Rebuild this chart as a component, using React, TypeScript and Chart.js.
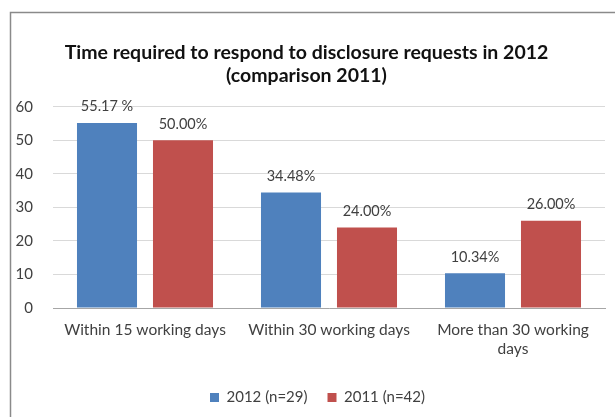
import React, { useEffect, useRef } from "react";
import { Chart, registerables } from "chart.js";

Chart.register(...registerables);

const categories: (string | string[])[] = [
  "Within 15 working days",
  "Within 30 working days",
  ["More than 30 working", "days"],
];
const series2012 = [55.17, 34.48, 10.34];
const series2011 = [50.0, 24.0, 26.0];
const labels2012 = ["55.17 %", "34.48%", "10.34%"];
const labels2011 = ["50.00%", "24.00%", "26.00%"];
const yTicks = [0, 10, 20, 30, 40, 50, 60];

const FONT = "Lato, 'Liberation Sans', Arial, sans-serif";

const dataLabelPlugin = {
  id: "dataLabels",
  afterDatasetsDraw(chart: any) {
    const ctx = chart.ctx;
    const all = [labels2012, labels2011];
    chart.data.datasets.forEach((ds: any, i: number) => {
      const meta = chart.getDatasetMeta(i);
      meta.data.forEach((el: any, j: number) => {
        ctx.save();
        ctx.font = `14.5px ${FONT}`;
        ctx.fillStyle = "#404040";
        ctx.textAlign = "center";
        ctx.textBaseline = "bottom";
        ctx.fillText(all[i][j], el.x, el.y - 9);
        ctx.restore();
      });
    });
  },
};

const shiftPlugin = {
  id: "shiftBoxes",
  afterLayout(chart: any) {
    if (chart.legend) {
      chart.legend.left += 15;
      chart.legend.right += 15;
    }
    if (chart.titleBlock) {
      chart.titleBlock.left += 4;
      chart.titleBlock.right += 4;
    }
  },
};

const borderPlugin = {
  id: "frame",
  beforeDraw(chart: any) {
    const ctx = chart.ctx;
    ctx.save();
    ctx.strokeStyle = "#8a8a8a";
    ctx.lineWidth = 1.5;
    ctx.beginPath();
    ctx.moveTo(10.5, chart.height);
    ctx.lineTo(10.5, 12.5);
    ctx.lineTo(chart.width, 12.5);
    ctx.stroke();
    ctx.restore();
  },
};

export default function App() {
  const ref = useRef<HTMLCanvasElement | null>(null);
  useEffect(() => {
    if (!ref.current) return;
    const chart = new Chart(ref.current, {
      type: "bar",
      data: {
        labels: categories as any,
        datasets: [
          {
            label: "2012 (n=29)",
            data: series2012,
            backgroundColor: "#4F81BD",
            categoryPercentage: 0.826,
            barPercentage: 0.79,
          },
          {
            label: "2011 (n=42)",
            data: series2011,
            backgroundColor: "#C0504D",
            categoryPercentage: 0.826,
            barPercentage: 0.79,
          },
        ],
      },
      options: {
        animation: false,
        responsive: true,
        maintainAspectRatio: false,
        layout: { padding: { left: 0, right: 10, top: 41, bottom: 2 } },
        plugins: {
          title: {
            display: true,
            text: [
              "Time required to respond to disclosure requests in 2012",
              "(comparison 2011)",
            ],
            color: "#111111",
            font: { family: FONT, size: 19.5, weight: "bold", lineHeight: 1.2 },
            padding: { top: 0, bottom: 19 },
          },
          legend: {
            position: "bottom",
            labels: {
              boxWidth: 9,
              boxHeight: 9,
              color: "#404040",
              font: { family: FONT, size: 15 },
              padding: 20,
            },
          },
          tooltip: { enabled: false },
        },
        scales: {
          x: {
            grid: { display: false, drawTicks: false },
            border: { display: true, color: "#A6A6A6" },
            ticks: {
              color: "#404040",
              font: { family: FONT, size: 15.5 },
              padding: 13,
              maxRotation: 0,
            },
            afterFit: (scale: any) => {
              scale.height = 62;
            },
          },
          y: {
            min: 0,
            max: 60,
            afterBuildTicks: (axis: any) => {
              axis.ticks = yTicks.map((v) => ({ value: v }));
            },
            grid: { color: "#D9D9D9", drawTicks: false },
            border: { display: false },
            ticks: {
              color: "#404040",
              font: { family: FONT, size: 15 },
              padding: 20,
            },
            afterFit: (scale: any) => {
              scale.width = 53;
            },
          },
        },
      },
      plugins: [dataLabelPlugin, shiftPlugin, borderPlugin],
    });
    return () => chart.destroy();
  }, []);
  return (
    <div style={{ position: "fixed", left: 0, top: 0, width: 615, height: 417, background: "#fff" }}>
      <canvas ref={ref} />
    </div>
  );
}
